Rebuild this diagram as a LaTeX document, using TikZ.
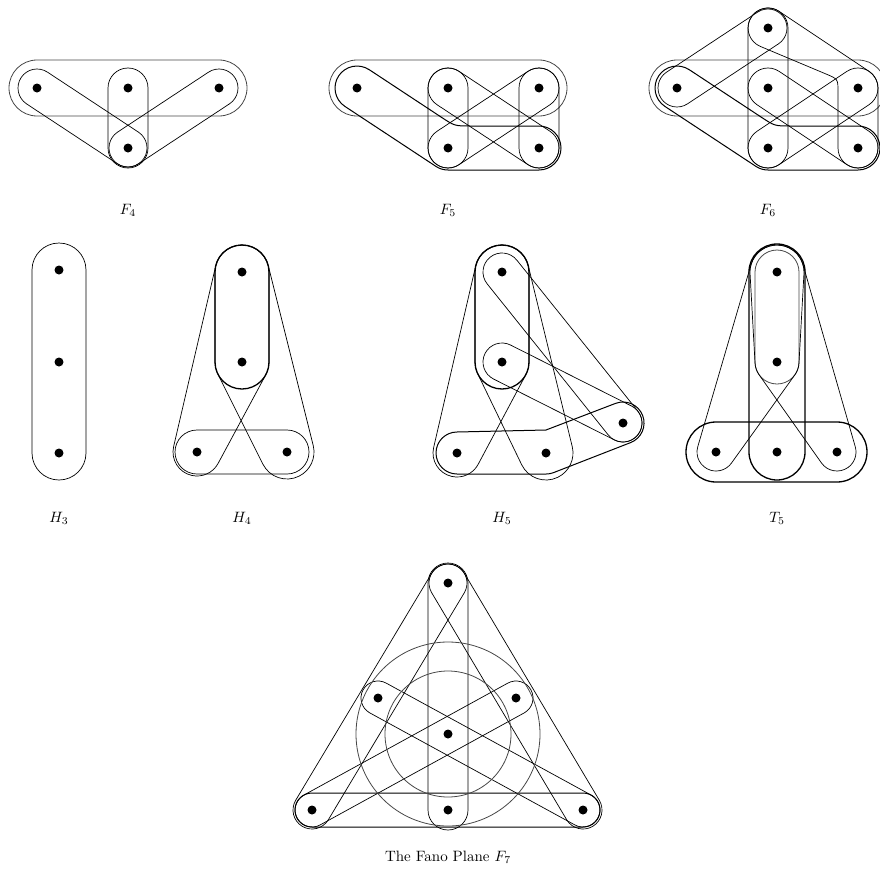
\documentclass[tikz,border=0pt]{standalone}
\usetikzlibrary{calc}
\tikzset{
 vdot/.style={circle, fill=black, inner sep=0pt, minimum size=9pt},
 hedge/.style={line width=0.7pt},
 hbold/.style={line width=1.3pt},
 hmid/.style={line width=1pt},
 hfaint/.style={line width=0.8pt, black!72},
 lab/.style={scale=1.5, inner sep=0pt},
}
% capsule: A, rA, B, rB
\newcommand\hcap[5][]{%
 \draw[hedge,#1] let \p1=(#2),\p2=(#4),
  \n1={atan2(\y2-\y1,\x2-\x1)-acos((#3-#5)/veclen(\x2-\x1,\y2-\y1))},
  \n2={atan2(\y1-\y2,\x1-\x2)-acos((#5-#3)/veclen(\x2-\x1,\y2-\y1))},
  \n3={mod(\n2-\n1+720,360)}, \n4={mod(\n1-\n2+720,360)} in
  ($(#2)+(\n1:#3pt)$) -- ($(#4)+(\n1:#5pt)$) arc[start angle=\n1, delta angle=\n3, radius=#5pt]
  -- ($(#2)+(\n2:#3pt)$) arc[start angle=\n2, delta angle=\n4, radius=#3pt] -- cycle;}
% hull of three circles, counter-clockwise: A, rA, B, rB, C, rC
\newcommand\htri[7][]{%
 \draw[hedge,#1] let \p1=(#2),\p2=(#4),\p3=(#6),
  \n1={atan2(\y2-\y1,\x2-\x1)-acos((#3-#5)/veclen(\x2-\x1,\y2-\y1))},
  \n2={atan2(\y3-\y2,\x3-\x2)-acos((#5-#7)/veclen(\x3-\x2,\y3-\y2))},
  \n3={atan2(\y1-\y3,\x1-\x3)-acos((#7-#3)/veclen(\x1-\x3,\y1-\y3))},
  \n4={mod(\n2-\n1+720,360)}, \n5={mod(\n3-\n2+720,360)}, \n6={mod(\n1-\n3+720,360)} in
  ($(#2)+(\n1:#3pt)$) -- ($(#4)+(\n1:#5pt)$) arc[start angle=\n1, delta angle=\n4, radius=#5pt]
  -- ($(#6)+(\n2:#7pt)$) arc[start angle=\n2, delta angle=\n5, radius=#7pt]
  -- ($(#2)+(\n3:#3pt)$) arc[start angle=\n3, delta angle=\n6, radius=#3pt] -- cycle;}
\begin{document}
\begin{tikzpicture}[x=1pt,y=-1pt,line width=0.7pt]
\useasboundingbox (0,0) rectangle (879,883);
% ---------- F4
\node[vdot] (f4a) at (37,88) {};
\node[vdot] (f4b) at (128,88) {};
\node[vdot] (f4c) at (219,88) {};
\node[vdot] (f4d) at (128,148) {};
\hcap[hfaint]{f4a}{28}{f4c}{28}
\hcap{f4b}{20}{f4d}{20}
\hcap{f4a}{19}{f4d}{19}
\hcap{f4c}{19}{f4d}{19}
\node[lab] (lf4) at (128,210) {$F_4$};
% ---------- F5
\node[vdot] (f5a) at (357,88) {};
\node[vdot] (f5b) at (448,88) {};
\node[vdot] (f5c) at (539,88) {};
\node[vdot] (f5d) at (448,148) {};
\node[vdot] (f5e) at (539,148) {};
\hcap[hfaint]{f5a}{28}{f5c}{28}
\hcap{f5b}{20}{f5d}{20}
\hcap{f5c}{20}{f5e}{20}
\hcap{f5b}{20}{f5e}{20}
\hcap{f5c}{20}{f5d}{20}
\draw[hmid] (369.1,69.6) -- (441.3,117.2) .. controls (454.7,126) .. (470.7,126) -- (539,126)
  arc[start angle=90, delta angle=-180, radius=22pt] -- (448,170)
  arc[start angle=-90, delta angle=-33.4, radius=22pt] -- (344.9,106.4)
  arc[start angle=-123.4, delta angle=-180, radius=22pt] -- cycle;
\node[lab] (lf5) at (448,210) {$F_5$};
% ---------- F6
\node[vdot] (f6t) at (768,28) {};
\node[vdot] (f6l) at (677,88) {};
\node[vdot] (f6m) at (768,88) {};
\node[vdot] (f6r) at (858,88) {};
\node[vdot] (f6p) at (768,148) {};
\node[vdot] (f6q) at (858,148) {};
\hcap[hfaint]{f6l}{28}{f6r}{28}
\hcap{f6t}{20}{f6p}{20}
\hcap{f6t}{19}{f6l}{19}
\hcap{f6m}{20}{f6q}{20}
\hcap{f6r}{20}{f6p}{20}
\begin{scope}[xshift=320pt]
\draw[hmid] (369.1,69.6) -- (441.3,117.2) .. controls (454.7,126) .. (470.7,126) -- (538,126)
  arc[start angle=90, delta angle=-180, radius=22pt] -- (448,170)
  arc[start angle=-90, delta angle=-33.4, radius=22pt] -- (344.9,106.4)
  arc[start angle=-123.4, delta angle=-180, radius=22pt] -- cycle;
\end{scope}
\draw[hedge] (779.1,11.4) -- (869.1,71.4) arc[start angle=56.3, delta angle=-56.3, radius=20pt]
  -- (878,148) arc[start angle=0, delta angle=-180, radius=20pt]
  -- (838,92) .. controls (838,79) .. (826,74) -- (760.3,46.4)
  arc[start angle=-112.8, delta angle=-190.9, radius=20pt] -- cycle;
\node[lab] (lf6) at (768,210) {$F_6$};
% ---------- H3
\node[vdot] (h3a) at (59,270) {};
\node[vdot] (h3b) at (59,362) {};
\node[vdot] (h3c) at (59,453) {};
\hcap{h3a}{27}{h3c}{27}
\node[lab] (lh3) at (59,518) {$H_3$};
% ---------- H4
\node[vdot] (h4a) at (242,272) {};
\node[vdot] (h4b) at (242,362) {};
\node[vdot] (h4c) at (197,452) {};
\node[vdot] (h4d) at (287,452) {};
\hcap[hbold]{h4a}{27}{h4b}{27}
\hcap{h4c}{22}{h4d}{22}
\htri{h4a}{27}{h4b}{27}{h4d}{27}
\htri{h4a}{27}{h4c}{24}{h4b}{27}
\node[lab] (lh4) at (242,518) {$H_4$};
% ---------- H5
\node[vdot] (h5a) at (502,272) {};
\node[vdot] (h5b) at (502,362) {};
\node[vdot] (h5c) at (457,453) {};
\node[vdot] (h5d) at (546,453) {};
\node[vdot] (h5r) at (623,423) {};
\hcap[hbold]{h5a}{27}{h5b}{27}
\htri{h5a}{27}{h5b}{27}{h5d}{27}
\htri{h5a}{27}{h5c}{24}{h5b}{27}
\hcap{h5a}{19}{h5r}{19}
\hcap{h5b}{19}{h5r}{19}
\draw[hmid] (457,432) -- (546,430) -- (615.5,403.4)
  arc[start angle=111, delta angle=-179.7, radius=21pt] -- (553.6,472.6)
  arc[start angle=-68.7, delta angle=-21.3, radius=21pt] -- (457,474)
  arc[start angle=-90, delta angle=-180, radius=21pt] -- cycle;
\node[lab] (lh5) at (502,518) {$H_5$};
% ---------- T5
\node[vdot] (t5a) at (777,272) {};
\node[vdot] (t5b) at (777,362) {};
\node[vdot] (t5c) at (716,452) {};
\node[vdot] (t5m) at (777,452) {};
\node[vdot] (t5e) at (837,452) {};
\hcap[hfaint]{t5a}{22}{t5b}{22}
\hcap[hbold]{t5a}{28}{t5m}{28}
\hcap[hbold]{t5c}{30}{t5e}{30}
\htri{t5a}{27}{t5c}{19}{t5b}{22}
\htri{t5a}{27}{t5b}{22}{t5e}{19}
\node[lab] (lt5) at (777,518) {$T_5$};
% ---------- Fano plane
\node[vdot] (fT) at (448,583) {};
\node[vdot] (fL) at (378,698) {};
\node[vdot] (fR) at (516,698) {};
\node[vdot] (fC) at (448,734) {};
\node[vdot] (fBL) at (312,810) {};
\node[vdot] (fBC) at (448,810) {};
\node[vdot] (fBR) at (583,810) {};
\hcap{fT}{20}{fBC}{20}
\hcap[hmid]{fBL}{17}{fBR}{17}
\hcap{fT}{19}{fBL}{19}
\hcap{fT}{19}{fBR}{19}
\hcap{fL}{17}{fBR}{17}
\hcap{fR}{17}{fBL}{17}
\draw[hfaint] (fC) circle[radius=92pt];
\draw[hfaint] (fC) circle[radius=63pt];
\node[lab] (lf7) at (448,857) {The Fano Plane $F_7$};
\end{tikzpicture}
\end{document}
